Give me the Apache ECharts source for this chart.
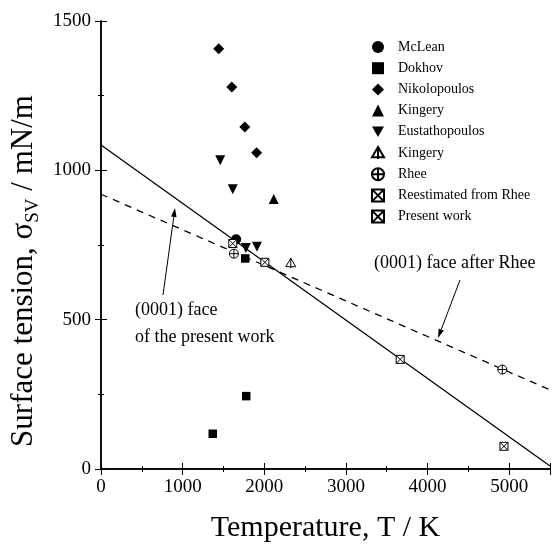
<!DOCTYPE html>
<html lang="en">
<head>
  <meta charset="UTF-8">
  <title>surface-tension</title>
  <style>
    html,
    body,
    #main {
      margin: 0;
      padding: 0;
      background: #fff;
    }

    #main {
      width: 556px;
      height: 548px;
    }
  </style>
</head>
<body>
  <div id="main"></div>
  <script src="https://cdn.jsdelivr.net/npm/echarts@6/dist/echarts.min.js"></script>
  <script>
    // [temperature K, surface tension mN/m]
    const mclean = [[1656, 769]];
    const dokhov = [[1767, 705], [1779, 244], [1369, 118]];
    const nikolopoulos = [[1442, 1407], [1602, 1279], [1762, 1145], [1906, 1059]];
    const kingery = [[2116, 904]];
    const eustathopoulos = [[1460, 1034], [1614, 937], [1775, 740], [1910, 744]];
    const kingeryOpen = [[2325, 689]];
    const rhee = [[1628, 721], [4916, 333]];
    const reestimated = [[1614, 755], [2007, 692]];
    const presentWork = [[3665, 367], [4936, 76]];

    // fitted lines
    const presentFit = [[0, 1085], [5500, 10]];
    const rheeFit = [[0, 920], [5500, 265]];

    const xTicks = [0, 1000, 2000, 3000, 4000, 5000];
    const yTicks = [0, 500, 1000, 1500];

    const FONT = 'Liberation Serif';

    const downTri = 'path://M0,0 L10,0 L5,8.7 Z';
    const circlePlus = 'path://M10,5 A5,5 0 1 1 0,5 A5,5 0 1 1 10,5 Z M5,0 L5,10 M0,5 L10,5';
    const boxCross = 'path://M0,0 L10,0 L10,10 L0,10 Z M0,0 L10,10 M10,0 L0,10';
    const openTri = 'path://M5,0 L10,8.5 L0,8.5 Z M5,0 L5,10';

    const arrow = (x1, y1, x2, y2) => {
      const len = Math.hypot(x2 - x1, y2 - y1);
      const dx = (x2 - x1) / len, dy = (y2 - y1) / len;
      const bx = x2 - 9 * dx, by = y2 - 9 * dy;
      return [
        { type: 'line', shape: { x1, y1, x2: bx, y2: by }, style: { stroke: '#000', lineWidth: 1 } },
        {
          type: 'polygon',
          shape: { points: [[x2, y2], [bx - 2.8 * dy, by + 2.8 * dx], [bx + 2.8 * dy, by - 2.8 * dx]] },
          style: { fill: '#000' }
        }
      ];
    };

    const label = (text, x, y) => ({
      type: 'text', x, y,
      style: { text, font: '18px "' + FONT + '"', fill: '#000', verticalAlign: 'middle' }
    });

    const scatter = (name, data, symbol, size, open) => ({
      name,
      type: 'scatter',
      data,
      symbol,
      symbolSize: size,
      itemStyle: open ?
        { color: '#fff', borderColor: '#000', borderWidth: 1, opacity: 1 } :
        { color: '#000', opacity: 1 },
      z: 5
    });

    const fitLine = (data, type) => ({
      type: 'line',
      data,
      symbol: 'none',
      silent: true,
      lineStyle: { color: '#000', width: 1.3, type },
      z: 3
    });

    const axisCommon = {
      type: 'value',
      axisLine: { show: true, lineStyle: { color: '#000', width: 1.5 } },
      axisTick: { show: true, inside: true, length: 6, lineStyle: { color: '#000', width: 1 } },
      minorTick: { show: true, splitNumber: 2, length: 3, lineStyle: { color: '#000', width: 1 } },
      splitLine: { show: false },
      axisLabel: { color: '#000', fontFamily: FONT, fontSize: 19 }
    };

    const chart = echarts.init(document.getElementById('main'));
    const option = {
      backgroundColor: '#fff',
      animation: false,
      grid: { left: 101, right: 6, top: 21, bottom: 74 },
      legend: {
        orient: 'vertical',
        left: 366,
        top: 35,
        itemWidth: 12,
        itemHeight: 12,
        itemGap: 7.2,
        textStyle: { fontFamily: FONT, fontSize: 14, color: '#000', padding: [0, 0, 0, 9] },
        data: ['McLean', 'Dokhov', 'Nikolopoulos', 'Kingery', 'Eustathopoulos', 'Kingery ', 'Rhee',
          'Reestimated from Rhee', 'Present work']
      },
      xAxis: [
        Object.assign({}, axisCommon, {
          min: 0, max: 5500, interval: 1000,
          axisLabel: Object.assign({}, axisCommon.axisLabel, { margin: 9, showMaxLabel: false,
            formatter: v => xTicks.includes(v) ? String(v) : '' }),
          name: 'Temperature, T / K',
          nameLocation: 'middle',
          nameGap: 44,
          nameTextStyle: { fontFamily: FONT, fontSize: 30, color: '#000' }
        }),
        Object.assign({}, axisCommon, {
          position: 'top', min: 0, max: 5500, interval: 1000,
          axisLabel: { show: false }
        })
      ],
      yAxis: [
        Object.assign({}, axisCommon, {
          min: 0, max: 1500, interval: 500,
          axisLabel: Object.assign({}, axisCommon.axisLabel, { margin: 10,
            formatter: v => yTicks.includes(v) ? String(v) : '' }),
          name: '{a|Surface tension, σ}{s|SV}{a| / mN/m}',
          nameLocation: 'middle',
          nameGap: 52,
          nameTextStyle: {
            color: '#000',
            padding: [0, 52, 0, 0],
            rich: {
              a: { fontFamily: FONT, fontSize: 31, lineHeight: 36, color: '#000' },
              s: { fontFamily: FONT, fontSize: 19, lineHeight: 18, verticalAlign: 'bottom', color: '#000' }
            }
          }
        }),
        Object.assign({}, axisCommon, {
          position: 'right', min: 0, max: 1500, interval: 500,
          axisLabel: { show: false }
        })
      ],
      graphic: [
        label('(0001) face', 135, 310),
        label('of the present work', 135, 337),
        label('(0001) face after Rhee', 374, 263),
        ...arrow(163, 295, 175, 208),
        ...arrow(460, 280, 438, 338)
      ],
      series: [
        fitLine(presentFit, 'solid'),
        fitLine(rheeFit, [7, 6]),
        scatter('McLean', mclean, 'circle', 10),
        scatter('Dokhov', dokhov, 'rect', 8.5),
        scatter('Nikolopoulos', nikolopoulos, 'diamond', 11),
        scatter('Kingery', kingery, 'triangle', 10),
        scatter('Eustathopoulos', eustathopoulos, downTri, 10),
        scatter('Kingery ', kingeryOpen, openTri, 10, true),
        scatter('Rhee', rhee, circlePlus, 9, true),
        scatter('Reestimated from Rhee', reestimated, boxCross, 8, true),
        scatter('Present work', presentWork, boxCross, 8, true)
      ]
    };

    chart.setOption(option);
  </script>
</body>
</html>
